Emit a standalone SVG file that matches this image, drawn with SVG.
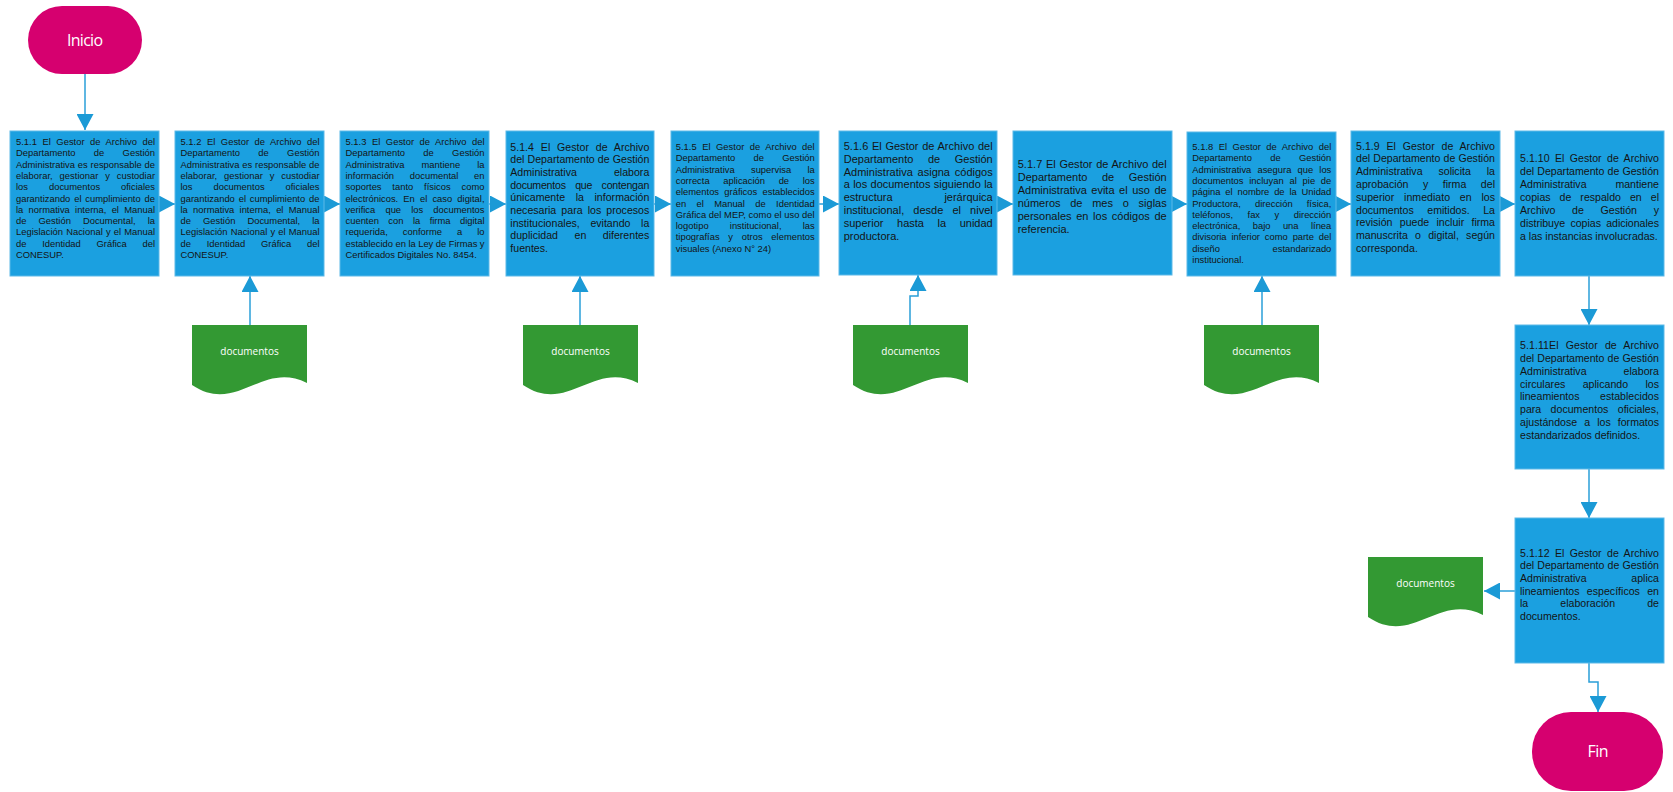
<svg xmlns="http://www.w3.org/2000/svg" width="1673" height="792" viewBox="0 0 1673 792">
<style>
.box{fill:#1ba0e0;stroke:#5cb9e8;stroke-width:1}
.term{fill:#d6006f}
.doc{fill:#339933}
.tt{fill:#ffffff;font-family:"Open Sans","Noto Sans",sans-serif;text-anchor:middle}
.dt{fill:#ffffff;font-family:"Open Sans","Noto Sans",sans-serif;font-size:10px;text-anchor:middle}
.s{fill:#141414;font-family:"Liberation Sans",Arial,sans-serif;font-size:9.4px}
.m{fill:#141414;font-family:"Liberation Sans",Arial,sans-serif;font-size:10.6px}
.l{fill:#141414;font-family:"Liberation Sans",Arial,sans-serif;font-size:11px}
.conn{fill:none;stroke:#2a9fd8;stroke-width:1.5;marker-end:url(#ah)}
</style>
<defs>
<marker id="ah" markerUnits="userSpaceOnUse" markerWidth="16" markerHeight="17" refX="16" refY="8.5" orient="auto">
<path d="M0,0 L16,8.5 L0,17 Z" fill="#1b9ad6"/>
</marker>
<path id="docshape" d="M0,0 H115 V58 C70,35 45,90 0,60 Z"/>
</defs>
<rect width="1673" height="792" fill="#ffffff"/>

<g id="connectors">
<path class="conn" d="M85,74 V130"/>
<path class="conn" d="M159,204 H175"/>
<path class="conn" d="M324,204 H340"/>
<path class="conn" d="M489,204 H506"/>
<path class="conn" d="M654,204 H671"/>
<path class="conn" d="M819,204 H839"/>
<path class="conn" d="M997,204 H1013"/>
<path class="conn" d="M1172,204 H1187"/>
<path class="conn" d="M1336,204 H1351"/>
<path class="conn" d="M1500,204 H1515"/>
<path class="conn" d="M1589,276 V325"/>
<path class="conn" d="M1589,469 V518"/>
<path class="conn" d="M1515,591 H1484"/>
<path class="conn" d="M1589,663 V682 H1598 V712"/>
<path class="conn" d="M250,325 V276"/>
<path class="conn" d="M580,325 V276"/>
<path class="conn" d="M910,325 V296 H918 V275"/>
<path class="conn" d="M1262,325 V276"/>
</g>

<g id="inicio">
<rect class="term" x="28" y="6" width="114" height="68" rx="34"/>
<text class="tt" x="85" y="45.5" font-size="16" textLength="36">Inicio</text>
</g>

<g id="n511">
<rect class="box" x="10" y="131" width="149" height="145"/>
<text class="s" x="16" y="145" word-spacing="2.83" textLength="139">5.1.1 El Gestor de Archivo del</text>
<text class="s" x="16" y="156.3" word-spacing="15.69" textLength="139">Departamento de Gestión</text>
<text class="s" x="16" y="167.6" word-spacing="0.19" textLength="139">Administrativa es responsable de</text>
<text class="s" x="16" y="178.9" word-spacing="4.19" textLength="139">elaborar, gestionar y custodiar</text>
<text class="s" x="16" y="190.2" word-spacing="18.30" textLength="139">los documentos oficiales</text>
<text class="s" x="16" y="201.5" word-spacing="1.23" textLength="139">garantizando el cumplimiento de</text>
<text class="s" x="16" y="212.8" word-spacing="2.62" textLength="139">la normativa interna, el Manual</text>
<text class="s" x="16" y="224.1" word-spacing="9.41" textLength="139">de Gestión Documental, la</text>
<text class="s" x="16" y="235.4" word-spacing="0.53" textLength="139">Legislación Nacional y el Manual</text>
<text class="s" x="16" y="246.7" word-spacing="13.07" textLength="139">de Identidad Gráfica del</text>
<text class="s" x="16" y="258">CONESUP.</text>
</g>

<g id="n512">
<rect class="box" x="175" y="131" width="149" height="145"/>
<text class="s" x="180.5" y="145" word-spacing="2.83" textLength="139">5.1.2 El Gestor de Archivo del</text>
<text class="s" x="180.5" y="156.3" word-spacing="15.69" textLength="139">Departamento de Gestión</text>
<text class="s" x="180.5" y="167.6" word-spacing="0.19" textLength="139">Administrativa es responsable de</text>
<text class="s" x="180.5" y="178.9" word-spacing="4.19" textLength="139">elaborar, gestionar y custodiar</text>
<text class="s" x="180.5" y="190.2" word-spacing="18.30" textLength="139">los documentos oficiales</text>
<text class="s" x="180.5" y="201.5" word-spacing="1.23" textLength="139">garantizando el cumplimiento de</text>
<text class="s" x="180.5" y="212.8" word-spacing="2.62" textLength="139">la normativa interna, el Manual</text>
<text class="s" x="180.5" y="224.1" word-spacing="9.41" textLength="139">de Gestión Documental, la</text>
<text class="s" x="180.5" y="235.4" word-spacing="0.53" textLength="139">Legislación Nacional y el Manual</text>
<text class="s" x="180.5" y="246.7" word-spacing="13.07" textLength="139">de Identidad Gráfica del</text>
<text class="s" x="180.5" y="258">CONESUP.</text>
</g>

<g id="n513">
<rect class="box" x="340" y="131" width="149" height="145"/>
<text class="s" x="345.5" y="145" word-spacing="2.83" textLength="139">5.1.3 El Gestor de Archivo del</text>
<text class="s" x="345.5" y="156.3" word-spacing="15.69" textLength="139">Departamento de Gestión</text>
<text class="s" x="345.5" y="167.6" word-spacing="14.39" textLength="139">Administrativa mantiene la</text>
<text class="s" x="345.5" y="178.9" word-spacing="13.08" textLength="139">información documental en</text>
<text class="s" x="345.5" y="190.2" word-spacing="8.19" textLength="139">soportes tanto físicos como</text>
<text class="s" x="345.5" y="201.5" word-spacing="2.49" textLength="139">electrónicos. En el caso digital,</text>
<text class="s" x="345.5" y="212.8" word-spacing="7.50" textLength="139">verifica que los documentos</text>
<text class="s" x="345.5" y="224.1" word-spacing="6.80" textLength="139">cuenten con la firma digital</text>
<text class="s" x="345.5" y="235.4" word-spacing="12.37" textLength="139">requerida, conforme a lo</text>
<text class="s" x="345.5" y="246.7" word-spacing="-0.17" textLength="139">establecido en la Ley de Firmas y</text>
<text class="s" x="345.5" y="258">Certificados Digitales No. 8454.</text>
</g>

<g id="n514">
<rect class="box" x="506" y="131" width="148" height="145"/>
<text class="m" x="510.3" y="150.5" word-spacing="3.82" textLength="139">5.1.4 El Gestor de Archivo</text>
<text class="m" x="510.3" y="163.2" word-spacing="0.18" textLength="139">del Departamento de Gestión</text>
<text class="m" x="510.3" y="175.9" word-spacing="34.14" textLength="139">Administrativa elabora</text>
<text class="m" x="510.3" y="188.6" word-spacing="6.74" textLength="139">documentos que contengan</text>
<text class="m" x="510.3" y="201.3" word-spacing="7.64" textLength="139">únicamente la información</text>
<text class="m" x="510.3" y="214" word-spacing="2.15" textLength="139">necesaria para los procesos</text>
<text class="m" x="510.3" y="226.7" word-spacing="7.64" textLength="139">institucionales, evitando la</text>
<text class="m" x="510.3" y="239.4" word-spacing="13.53" textLength="139">duplicidad en diferentes</text>
<text class="m" x="510.3" y="252.1">fuentes.</text>
</g>

<g id="n515">
<rect class="box" x="671" y="131" width="148" height="145"/>
<text class="s" x="675.7" y="150" word-spacing="2.83" textLength="139">5.1.5 El Gestor de Archivo del</text>
<text class="s" x="675.7" y="161.3" word-spacing="15.69" textLength="139">Departamento de Gestión</text>
<text class="s" x="675.7" y="172.6" word-spacing="13.61" textLength="139">Administrativa supervisa la</text>
<text class="s" x="675.7" y="183.9" word-spacing="10.98" textLength="139">correcta aplicación de los</text>
<text class="s" x="675.7" y="195.2" word-spacing="2.63" textLength="139">elementos gráficos establecidos</text>
<text class="s" x="675.7" y="206.5" word-spacing="7.71" textLength="139">en el Manual de Identidad</text>
<text class="s" x="675.7" y="217.8" word-spacing="-0.08" textLength="139">Gráfica del MEP, como el uso del</text>
<text class="s" x="675.7" y="229.1" word-spacing="18.56" textLength="139">logotipo institucional, las</text>
<text class="s" x="675.7" y="240.4" word-spacing="6.10" textLength="139">tipografías y otros elementos</text>
<text class="s" x="675.7" y="251.7">visuales (Anexo N° 24)</text>
</g>

<g id="n516">
<rect class="box" x="839" y="131" width="158" height="144"/>
<text class="l" x="843.7" y="149.7" word-spacing="0.58" textLength="149">5.1.6 El Gestor de Archivo del</text>
<text class="l" x="843.7" y="162.6" word-spacing="11.53" textLength="149">Departamento de Gestión</text>
<text class="l" x="843.7" y="175.5" word-spacing="1.75" textLength="149">Administrativa asigna códigos</text>
<text class="l" x="843.7" y="188.4" word-spacing="0.26" textLength="149">a los documentos siguiendo la</text>
<text class="l" x="843.7" y="201.3" word-spacing="48.74" textLength="149">estructura jerárquica</text>
<text class="l" x="843.7" y="214.2" word-spacing="6.06" textLength="149">institucional, desde el nivel</text>
<text class="l" x="843.7" y="227.1" word-spacing="10.54" textLength="149">superior hasta la unidad</text>
<text class="l" x="843.7" y="240">productora.</text>
</g>

<g id="n517">
<rect class="box" x="1013" y="131" width="159" height="144"/>
<text class="l" x="1017.7" y="168.3" word-spacing="0.58" textLength="149">5.1.7 El Gestor de Archivo del</text>
<text class="l" x="1017.7" y="181.2" word-spacing="11.53" textLength="149">Departamento de Gestión</text>
<text class="l" x="1017.7" y="194.1" word-spacing="1.49" textLength="149">Administrativa evita el uso de</text>
<text class="l" x="1017.7" y="207" word-spacing="6.68" textLength="149">números de mes o siglas</text>
<text class="l" x="1017.7" y="219.9" word-spacing="1.64" textLength="149">personales en los códigos de</text>
<text class="l" x="1017.7" y="232.8">referencia.</text>
</g>

<g id="n518">
<rect class="box" x="1187" y="132" width="149" height="144"/>
<text class="s" x="1192.3" y="150" word-spacing="2.83" textLength="139">5.1.8 El Gestor de Archivo del</text>
<text class="s" x="1192.3" y="161.3" word-spacing="15.69" textLength="139">Departamento de Gestión</text>
<text class="s" x="1192.3" y="172.6" word-spacing="3.49" textLength="139">Administrativa asegura que los</text>
<text class="s" x="1192.3" y="183.9" word-spacing="3.14" textLength="139">documentos incluyan al pie de</text>
<text class="s" x="1192.3" y="195.2" word-spacing="2.20" textLength="139">página el nombre de la Unidad</text>
<text class="s" x="1192.3" y="206.5" word-spacing="11.51" textLength="139">Productora, dirección física,</text>
<text class="s" x="1192.3" y="217.8" word-spacing="11.85" textLength="139">teléfonos, fax y dirección</text>
<text class="s" x="1192.3" y="229.1" word-spacing="9.76" textLength="139">electrónica, bajo una línea</text>
<text class="s" x="1192.3" y="240.4" word-spacing="2.34" textLength="139">divisoria inferior como parte del</text>
<text class="s" x="1192.3" y="251.7" word-spacing="50.18" textLength="139">diseño estandarizado</text>
<text class="s" x="1192.3" y="263">institucional.</text>
</g>

<g id="n519">
<rect class="box" x="1351" y="131" width="149" height="145"/>
<text class="m" x="1356" y="149.5" word-spacing="3.82" textLength="139">5.1.9 El Gestor de Archivo</text>
<text class="m" x="1356" y="162.3" word-spacing="0.18" textLength="139">del Departamento de Gestión</text>
<text class="m" x="1356" y="175.1" word-spacing="12.95" textLength="139">Administrativa solicita la</text>
<text class="m" x="1356" y="187.9" word-spacing="11.58" textLength="139">aprobación y firma del</text>
<text class="m" x="1356" y="200.7" word-spacing="6.86" textLength="139">superior inmediato en los</text>
<text class="m" x="1356" y="213.5" word-spacing="10.58" textLength="139">documentos emitidos. La</text>
<text class="m" x="1356" y="226.3" word-spacing="4.32" textLength="139">revisión puede incluir firma</text>
<text class="m" x="1356" y="239.1" word-spacing="4.31" textLength="139">manuscrita o digital, según</text>
<text class="m" x="1356" y="251.9">corresponda.</text>
</g>

<g id="n5110">
<rect class="box" x="1515" y="131" width="149" height="145"/>
<text class="m" x="1520" y="162.1" word-spacing="2.35" textLength="139">5.1.10 El Gestor de Archivo</text>
<text class="m" x="1520" y="175" word-spacing="0.18" textLength="139">del Departamento de Gestión</text>
<text class="m" x="1520" y="187.9" word-spacing="25.89" textLength="139">Administrativa mantiene</text>
<text class="m" x="1520" y="200.8" word-spacing="6.03" textLength="139">copias de respaldo en el</text>
<text class="m" x="1520" y="213.7" word-spacing="13.73" textLength="139">Archivo de Gestión y</text>
<text class="m" x="1520" y="226.6" word-spacing="2.34" textLength="139">distribuye copias adicionales</text>
<text class="m" x="1520" y="239.5">a las instancias involucradas.</text>
</g>

<g id="n5111">
<rect class="box" x="1515" y="325" width="149" height="144"/>
<text class="m" x="1520" y="349.1" word-spacing="4.11" textLength="139">5.1.11El Gestor de Archivo</text>
<text class="m" x="1520" y="361.9" word-spacing="0.18" textLength="139">del Departamento de Gestión</text>
<text class="m" x="1520" y="374.7" word-spacing="34.14" textLength="139">Administrativa elabora</text>
<text class="m" x="1520" y="387.5" word-spacing="14.42" textLength="139">circulares aplicando los</text>
<text class="m" x="1520" y="400.3" word-spacing="17.64" textLength="139">lineamientos establecidos</text>
<text class="m" x="1520" y="413.1" word-spacing="6.46" textLength="139">para documentos oficiales,</text>
<text class="m" x="1520" y="425.9" word-spacing="4.11" textLength="139">ajustándose a los formatos</text>
<text class="m" x="1520" y="438.7">estandarizados definidos.</text>
</g>

<g id="n5112">
<rect class="box" x="1515" y="518" width="149" height="145"/>
<text class="m" x="1520" y="556.5" word-spacing="2.35" textLength="139">5.1.12 El Gestor de Archivo</text>
<text class="m" x="1520" y="569.2" word-spacing="0.18" textLength="139">del Departamento de Gestión</text>
<text class="m" x="1520" y="581.9" word-spacing="41.81" textLength="139">Administrativa aplica</text>
<text class="m" x="1520" y="594.6" word-spacing="4.40" textLength="139">lineamientos específicos en</text>
<text class="m" x="1520" y="607.3" word-spacing="29.14" textLength="139">la elaboración de</text>
<text class="m" x="1520" y="620">documentos.</text>
</g>

<g id="doc1">
<use href="#docshape" class="doc" x="192" y="325"/>
<text class="dt" x="249.5" y="354.5">documentos</text>
</g>
<g id="doc2">
<use href="#docshape" class="doc" x="523" y="325"/>
<text class="dt" x="580.5" y="354.5">documentos</text>
</g>
<g id="doc3">
<use href="#docshape" class="doc" x="853" y="325"/>
<text class="dt" x="910.5" y="354.5">documentos</text>
</g>
<g id="doc4">
<use href="#docshape" class="doc" x="1204" y="325"/>
<text class="dt" x="1261.5" y="354.5">documentos</text>
</g>
<g id="doc5">
<use href="#docshape" class="doc" x="1368" y="557"/>
<text class="dt" x="1425.5" y="586.5">documentos</text>
</g>

<g id="fin">
<rect class="term" x="1532" y="712" width="131" height="79" rx="39"/>
<text class="tt" x="1598" y="756.7" font-size="16" textLength="21">Fin</text>
</g>
</svg>
